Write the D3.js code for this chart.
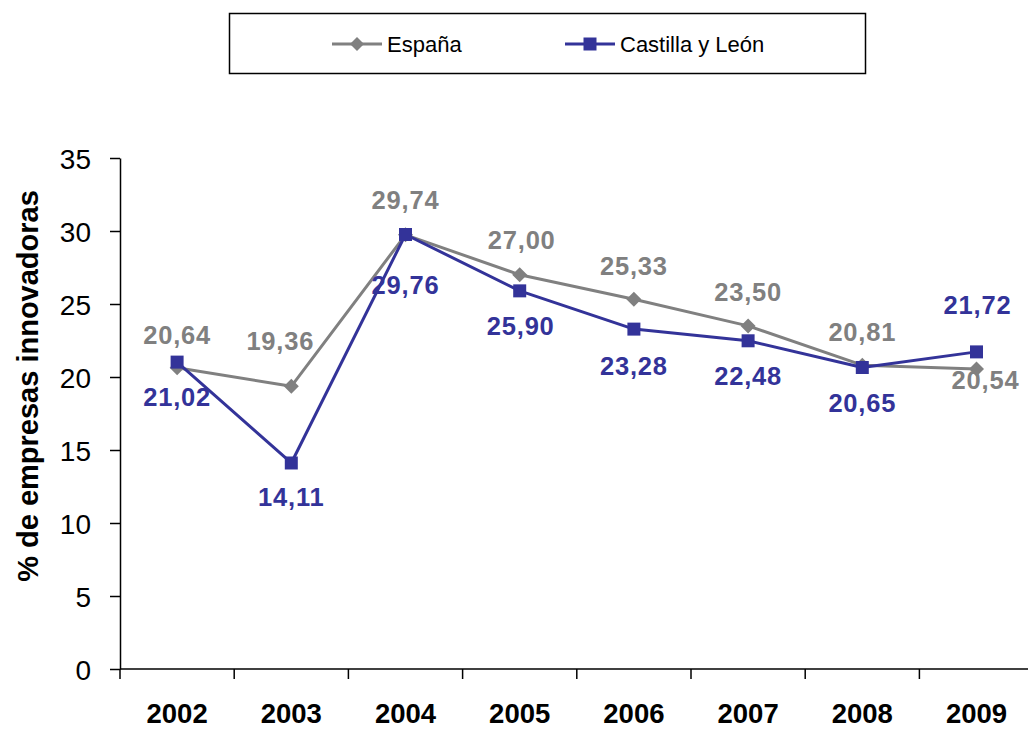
<!DOCTYPE html>
<html>
<head>
<meta charset="utf-8">
<script src="https://cdn.jsdelivr.net/npm/d3@7"></script>
<style>
  html, body { margin: 0; padding: 0; background: #fff; }
  svg { display: block; font-family: "Liberation Sans", Arial, sans-serif; }
</style>
</head>
<body>
<svg id="chart" width="1029" height="729"></svg>
<script>
// Categories and series
const years = ["2002", "2003", "2004", "2005", "2006", "2007", "2008", "2009"];
const espana = [20.64, 19.36, 29.74, 27.00, 25.33, 23.50, 20.81, 20.54];
const castillaLeon = [21.02, 14.11, 29.76, 25.90, 23.28, 22.48, 20.65, 21.72];
const yTicks = [0, 5, 10, 15, 20, 25, 30, 35];
const seriesNames = ["España", "Castilla y León"];

// Label nudges (pixels) relative to each marker
const esLabelDx = [0, -11, 0, 2, 0, 0, 0, 9];
const esLabelDy = [-33, -46, -35, -35, -33, -34, -33, 11];
const clLabelDx = [0, 0, 0, 1, 0, 0, 0, 1];
const clLabelDy = [35, 34, 50, 35, 37, 35, 35, -47];

const GREY = "#808080";
const BLUE = "#333399";

const svg = d3.select("#chart");
svg.append("rect").attr("width", 1029).attr("height", 729).attr("fill", "#fff");

const x = d3.scaleBand().domain(years).range([120, 1033.6]).padding(0);
const y = d3.scaleLinear().domain([0, 35]).range([669, 158]);
const cx = d => x(d) + x.bandwidth() / 2;

// Y axis
const yAxis = svg.append("g")
  .attr("transform", "translate(120,0)")
  .call(d3.axisLeft(y).tickValues(yTicks).tickSize(10).tickPadding(19).tickSizeOuter(0));
yAxis.select(".domain").attr("stroke", "#000").attr("stroke-width", 1.5);
yAxis.selectAll(".tick line").attr("stroke", "#000").attr("stroke-width", 1.5);
yAxis.selectAll(".tick text")
  .attr("font-size", 28).attr("font-family", "Liberation Sans, Arial, sans-serif")
  .attr("fill", "#000").attr("dy", "0.36em");

// X axis: line, boundary ticks, centred labels
const xAxis = svg.append("g").attr("class", "x-axis");
xAxis.append("line")
  .attr("x1", 120).attr("x2", 1028).attr("y1", y(0)).attr("y2", y(0))
  .attr("stroke", "#000").attr("stroke-width", 1.5);
xAxis.selectAll("line.tick")
  .data(years)
  .join("line")
  .attr("class", "tick")
  .attr("x1", d => x(d)).attr("x2", d => x(d))
  .attr("y1", y(0)).attr("y2", y(0) + 10)
  .attr("stroke", "#000").attr("stroke-width", 1.5);
xAxis.selectAll("text")
  .data(years)
  .join("text")
  .attr("x", d => cx(d))
  .attr("y", 723)
  .attr("text-anchor", "middle")
  .attr("font-size", 27.5).attr("font-weight", "bold").attr("fill", "#000")
  .text(d => d);

// Y axis title
svg.append("text")
  .attr("transform", "translate(38,386) rotate(-90)")
  .attr("text-anchor", "middle")
  .attr("font-size", 29).attr("font-weight", "bold").attr("fill", "#000")
  .text("% de empresas innovadoras");

// Marker shapes
const diamond = (r) => `M0,${-r}L${r},0L0,${r}L${-r},0Z`;
const square = (h) => `M${-h},${-h}H${h}V${h}H${-h}Z`;

function drawSeries(values, color, shape, dxArr, dyArr) {
  const g = svg.append("g");
  const line = d3.line().x((d, i) => cx(years[i])).y(d => y(d));
  g.append("path")
    .datum(values)
    .attr("d", line)
    .attr("fill", "none")
    .attr("stroke", color)
    .attr("stroke-width", 3)
    .attr("stroke-linejoin", "round");
  g.selectAll("path.mk")
    .data(values)
    .join("path")
    .attr("class", "mk")
    .attr("transform", (d, i) => `translate(${cx(years[i])},${y(d)})`)
    .attr("d", shape)
    .attr("fill", color);
  g.selectAll("text")
    .data(values)
    .join("text")
    .attr("x", (d, i) => cx(years[i]) + dxArr[i])
    .attr("y", (d, i) => y(d) + dyArr[i])
    .attr("dy", "0.36em")
    .attr("text-anchor", "middle")
    .attr("font-size", 25.5).attr("font-weight", "bold")
    .attr("letter-spacing", 0.8)
    .attr("fill", color)
    .text(d => d.toFixed(2).replace(".", ","));
}

drawSeries(espana, GREY, diamond(7.5), esLabelDx, esLabelDy);
drawSeries(castillaLeon, BLUE, square(6.5), clLabelDx, clLabelDy);

// Legend
const legend = svg.append("g");
legend.append("rect")
  .attr("x", 229.5).attr("y", 13.5).attr("width", 636).attr("height", 60)
  .attr("fill", "#fff").attr("stroke", "#000").attr("stroke-width", 1.5);
const legendItems = [
  { name: seriesNames[0], color: GREY, shape: diamond(7), x0: 332 },
  { name: seriesNames[1], color: BLUE, shape: square(6.5), x0: 565 }
];
legendItems.forEach(it => {
  const ly = 44;
  legend.append("line")
    .attr("x1", it.x0).attr("x2", it.x0 + 50).attr("y1", ly).attr("y2", ly)
    .attr("stroke", it.color).attr("stroke-width", 3);
  legend.append("path")
    .attr("transform", `translate(${it.x0 + 25},${ly})`)
    .attr("d", it.shape).attr("fill", it.color);
  legend.append("text")
    .attr("x", it.x0 + 55).attr("y", ly).attr("dy", "0.36em")
    .attr("font-size", 22).attr("fill", "#000")
    .text(it.name);
});
</script>
</body>
</html>
